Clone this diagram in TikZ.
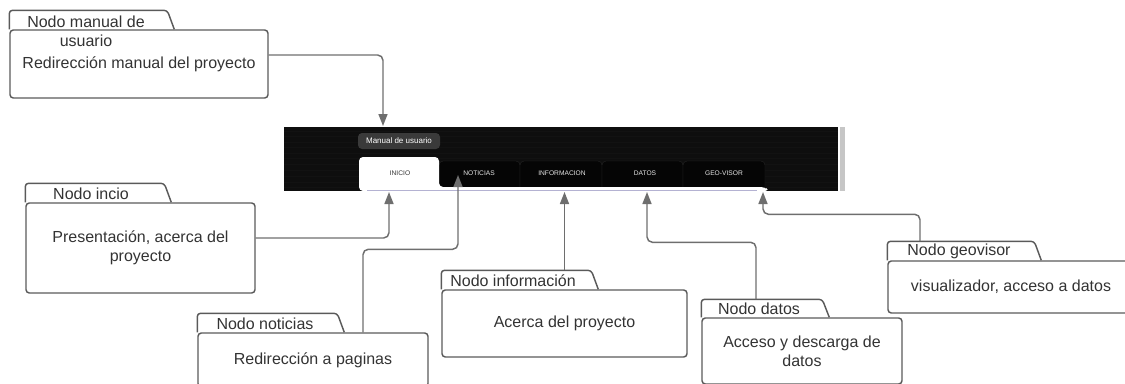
\documentclass[tikz,border=0pt]{standalone}
\usepackage{fontspec}
\setmainfont{Liberation Sans}
\usetikzlibrary{arrows.meta}

\definecolor{linegray}{HTML}{5A5A5A}
\definecolor{conngray}{HTML}{6E6E6E}
\definecolor{textgray}{HTML}{333333}
\definecolor{screenblack}{HTML}{0E0E0E}
\definecolor{tabblack}{HTML}{050505}
\definecolor{btngray}{HTML}{3A3A3A}
\definecolor{stripline}{HTML}{B4B2D2}

\begin{document}
\begin{tikzpicture}[
x=0.75pt, y=-0.75pt,
folderbox/.style={draw=linegray, line width=1.1pt, rounded corners=2.5pt, rectangle, inner sep=0pt,
  align=center, text=textgray, font=\fontsize{12}{14.25}\selectfont},
tablabel/.style={text=textgray, align=center, inner sep=0pt, font=\fontsize{12}{14.25}\selectfont},
foldertab/.style={draw=linegray, line width=1.1pt, rounded corners=2.5pt},
conn/.style={draw=conngray, line width=1.1pt, rounded corners=4pt, -{Triangle[length=9pt,width=6.75pt]}},
navtab/.style={fill=tabblack, draw=black!85!white, line width=0.3pt, rounded corners=3pt},
navlabel/.style={text=white!90!black, inner sep=0pt, font=\fontsize{5}{6}\selectfont}
]

\useasboundingbox (0,0) rectangle (1125,383);
\clip (0,0) rectangle (1125,383);

% screenshot of the menu bar
\fill[screenblack] (284,127) rectangle (838,191);
\foreach \yy in {131,136,142,147,153,158,164,170,176,182,187}
  \draw[white!7!black, line width=0.25pt] (284,\yy) -- (838,\yy);
\fill[gray!45] (840,127) rectangle (845,191);

\node[fill=btngray, rounded corners=3pt, minimum width=61.5pt, minimum height=12pt, inner sep=0pt,
  text=white, font=\fontsize{6}{7}\selectfont] (btn-manual) at (399,141) {Manual de usuario};

% dark tabs
\draw[navtab] (439,187) -- (439,161) -- (520,161) -- (520,187);
\draw[navtab] (520,187) -- (520,161) -- (602,161) -- (602,187);
\draw[navtab] (602,187) -- (602,161) -- (683,161) -- (683,187);
\draw[navtab] (683,187) -- (683,161) -- (765,161) -- (765,187);
\fill[white, rounded corners=3pt] (359,191) -- (359,157) -- (439,157) -- (439,187) -- (765,187) -- (769,191) -- cycle;
\draw[stripline, line width=0.25pt] (367,190) -- (757,190);

\node[navlabel, text=textgray] (tab-inicio) at (400,173) {INICIO};
\node[navlabel] (tab-noticias) at (479,173) {NOTICIAS};
\node[navlabel] (tab-informacion) at (562,173) {INFORMACION};
\node[navlabel] (tab-datos) at (645,173) {DATOS};
\node[navlabel] (tab-geovisor) at (724,173) {GEO-VISOR};

% arrow targets
\coordinate (t-manual) at (383,126);
\coordinate (t-inicio) at (389,192);
\coordinate (t-noticias) at (458,175);
\coordinate (t-informacion) at (564.5,192);
\coordinate (t-datos) at (647,192);
\coordinate (t-geovisor) at (763,192);

% folders
\node[folderbox, minimum width=193.5pt, minimum height=51pt] (manual) at (139,64) {Redirección manual del proyecto};
\draw[foldertab] (manual.north west) -- ++(0,-19) -- ++(158,0) -- ++(7,19);
\node[tablabel] (manual-tab) at (86,31) {Nodo manual de\\usuario};

\node[folderbox, minimum width=171.75pt, minimum height=67.5pt] (incio) at (140.5,248) {Presentación, acerca del\\proyecto};
\draw[foldertab] (incio.north west) -- ++(0,-19) -- ++(139,0) -- ++(7,19);
\node[tablabel] (incio-tab) at (91,193.5) {Nodo incio};

\node[folderbox, minimum width=172.5pt, minimum height=40.5pt] (noticias) at (313,360) {Redirección a paginas};
\draw[foldertab] (noticias.north west) -- ++(0,-19) -- ++(140,0) -- ++(7,19);
\node[tablabel] (noticias-tab) at (265,323.5) {Nodo noticias};

\node[folderbox, minimum width=183.75pt, minimum height=50.25pt] (informacion) at (564.5,323.5) {Acerca del proyecto};
\draw[foldertab] (informacion.north west) -- ++(0,-19) -- ++(150,0) -- ++(7,19);
\node[tablabel] (informacion-tab) at (513,280.5) {Nodo información};

\node[folderbox, minimum width=150pt, minimum height=49.5pt] (datos) at (802,351) {Acceso y descarga de\\datos};
\draw[foldertab] (datos.north west) -- ++(0,-18) -- ++(121,0) -- ++(7,18);
\node[tablabel] (datos-tab) at (759,309) {Nodo datos};

\node[folderbox, minimum width=184.5pt, minimum height=39pt] (geovisor) at (1011,287) {visualizador, acceso a datos};
\draw[foldertab] (geovisor.north west) -- ++(0,-19) -- ++(147,0) -- ++(7,19);
\node[tablabel] (geovisor-tab) at (959,251.5) {Nodo geovisor};

% connectors
\draw[conn] ([yshift=6.75pt]manual.east) -| (t-manual);
\draw[conn] ([yshift=7.5pt]incio.east) -| (t-inicio);
\draw[conn] ([xshift=37.5pt]noticias.north) -- ++(0,-83) -| (t-noticias);
\draw[conn] ([yshift=14.25pt]informacion.north) -- (t-informacion);
\draw[conn] ([xshift=-34.5pt,yshift=13.5pt]datos.north) -- ++(0,-57) -| (t-datos);
\draw[conn] ([xshift=-68.25pt,yshift=14.25pt]geovisor.north) -- ++(0,-27) -| (t-geovisor);

\end{tikzpicture}
\end{document}
